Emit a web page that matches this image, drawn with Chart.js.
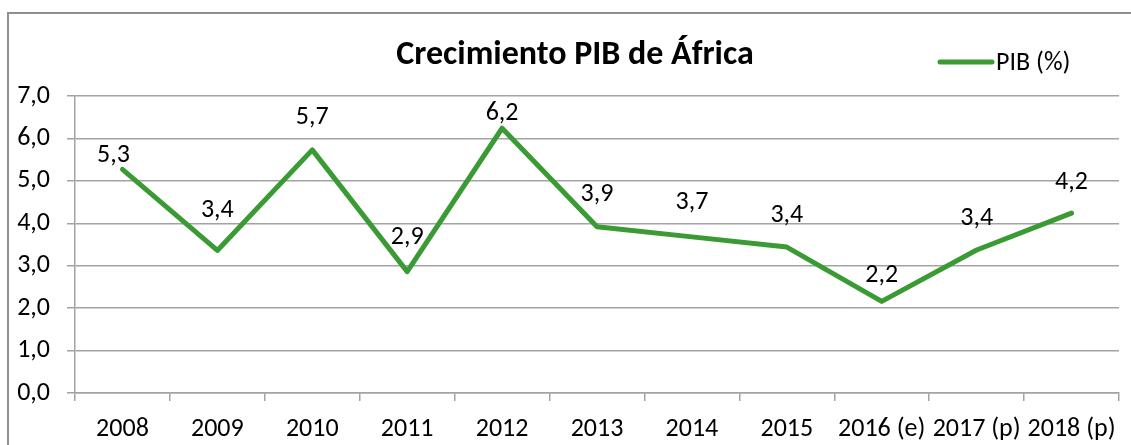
<!DOCTYPE html>
<html>
<head>
<meta charset="utf-8">
<script src="https://cdn.jsdelivr.net/npm/chart.js@4/dist/chart.umd.min.js"></script>
<style>
  html, body { margin: 0; padding: 0; background: #fff; overflow: hidden; }
  #wrap { position: relative; width: 1131px; height: 445px; }
  #frame { position: absolute; left: 7px; top: 12px; width: 1200px; height: 600px;
           border-left: 2px solid #8f8f8f; border-top: 2px solid #8f8f8f; box-sizing: border-box; }
  canvas { position: absolute; left: 0; top: 0; }
</style>
</head>
<body>
<div id="wrap">
  <div id="frame"></div>
  <canvas id="c" width="1131" height="445"></canvas>
</div>
<script>
// ---- data ----
const categories = ['2008', '2009', '2010', '2011', '2012', '2013', '2014', '2015', '2016 (e)', '2017 (p)', '2018 (p)'];
const pibValues = [5.27, 3.36, 5.73, 2.86, 6.24, 3.92, 3.68, 3.44, 2.16, 3.37, 4.24];
const yTicks = [0, 1, 2, 3, 4, 5, 6, 7];
const seriesName = 'PIB (%)';
const chartTitle = 'Crecimiento PIB de África';

// ---- style ----
const FONT = 'Carlito, Lato, "Open Sans", sans-serif';
const GREEN = '#3a9b35';
const GRID = '#a3a3a3';
const labelDy = [14, 40, 32, 34, 15, 32, 34, 32, 26, 32, 31];
const labelDx = [-9, 0, 0, 0, 0, 0, 0, 0, 0, 0, 0];

const fmt = v => v.toFixed(1).replace('.', ',');

const overlay = {
  id: 'overlay',
  afterDatasetsDraw(chart) {
    const ctx = chart.ctx;
    const meta = chart.getDatasetMeta(0);
    ctx.save();
    ctx.fillStyle = '#000';
    ctx.font = '26px ' + FONT;
    ctx.textAlign = 'center';
    ctx.textBaseline = 'middle';
    meta.data.forEach((pt, i) => {
      ctx.fillText(fmt(pibValues[i]), pt.x + labelDx[i], pt.y - labelDy[i]);
    });
    // title
    ctx.font = 'bold 34px ' + FONT;
    ctx.textBaseline = 'alphabetic';
    ctx.fillText(chartTitle, 575, 64);
    // legend
    ctx.strokeStyle = GREEN;
    ctx.lineWidth = 5;
    ctx.lineCap = 'round';
    ctx.beginPath();
    ctx.moveTo(940, 62);
    ctx.lineTo(992, 62);
    ctx.stroke();
    ctx.font = '26px ' + FONT;
    ctx.textAlign = 'left';
    ctx.fillText(seriesName, 996, 70);
    ctx.restore();
  }
};

new Chart(document.getElementById('c'), {
  type: 'line',
  data: {
    labels: categories,
    datasets: [{
      label: seriesName,
      data: pibValues,
      borderColor: GREEN,
      backgroundColor: GREEN,
      borderWidth: 5,
      pointRadius: 0,
      tension: 0,
      borderCapStyle: 'round',
      borderJoinStyle: 'round',
      fill: false
    }]
  },
  options: {
    responsive: false,
    animation: false,
    devicePixelRatio: 1,
    layout: { padding: { top: 96, right: 12, left: 0, bottom: 0 } },
    plugins: {
      legend: { display: false },
      title: { display: false },
      tooltip: { enabled: false }
    },
    scales: {
      x: {
        type: 'category',
        offset: true,
        afterFit(s) { s.height = 52; },
        grid: { display: true, drawOnChartArea: false, drawTicks: true, tickLength: 8, color: GRID, lineWidth: 1.5, offset: true },
        border: { display: true, color: GRID, width: 1.5 },
        ticks: { color: '#000', font: { family: FONT, size: 26 }, padding: 13, maxRotation: 0, autoSkip: false }
      },
      y: {
        min: 0, max: 7,
        afterFit(s) { s.width = 75; },
        afterBuildTicks(s) { s.ticks = yTicks.map(v => ({ value: v })); },
        grid: { color: GRID, lineWidth: 1.5, tickLength: 8, drawTicks: true },
        border: { display: true, color: GRID, width: 1.5 },
        ticks: { color: '#000', font: { family: FONT, size: 26 }, padding: 17, callback: v => fmt(v) }
      }
    }
  },
  plugins: [overlay]
});
</script>
</body>
</html>
